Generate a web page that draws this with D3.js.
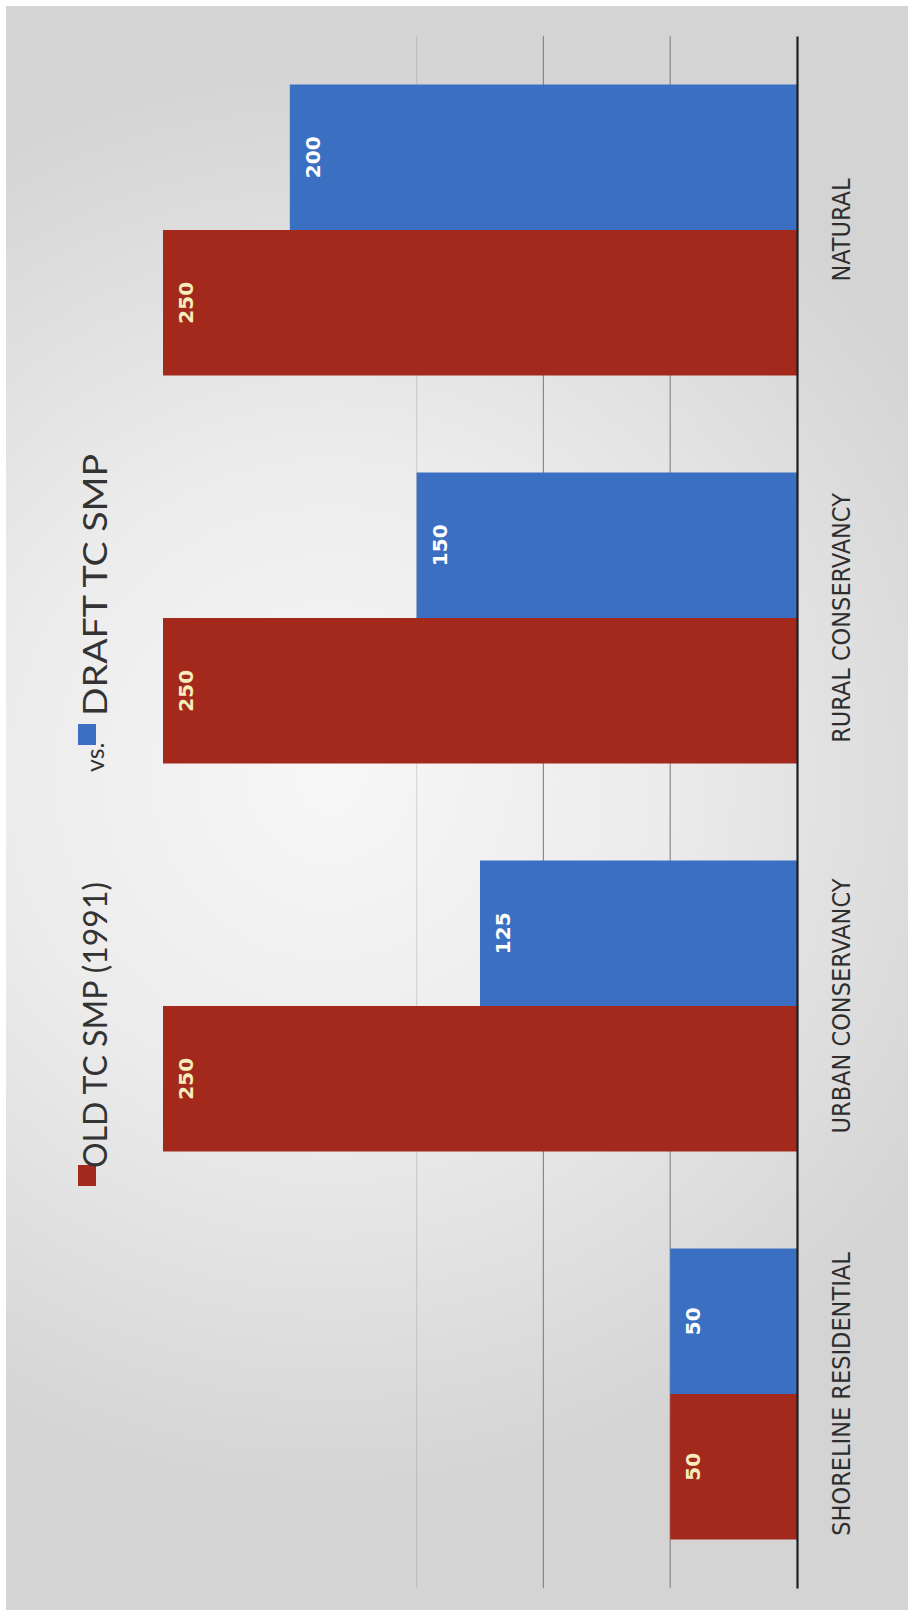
<!DOCTYPE html>
<html><head><meta charset="utf-8">
<script src="https://cdn.jsdelivr.net/npm/d3@7"></script>
<style>body{margin:0;background:#fff}svg{display:block}</style>
</head><body><svg id="c" width="914" height="1623"></svg>
<script>
// ---- data ----
const categories = ["SHORELINE RESIDENTIAL", "URBAN CONSERVANCY", "RURAL CONSERVANCY", "NATURAL"];
const seriesNames = ["OLD TC SMP (1991)", "DRAFT TC SMP"];
const seriesKeys = ["old", "draft"];
const oldValues = [50, 250, 250, 250];
const draftValues = [50, 125, 150, 200];
const gridTicks = [50, 100, 150];
const joinerText = "vs.";

const rows = categories.map((c, i) => ({cat: c, old: oldValues[i], draft: draftValues[i]}));

const svg = d3.select("#c");
const defs = svg.append("defs");
const rg = defs.append("radialGradient").attr("id", "bg")
  .attr("gradientUnits", "userSpaceOnUse").attr("cx", 330).attr("cy", 780).attr("r", 720);
rg.append("stop").attr("offset", "0%").attr("stop-color", "#f7f7f7");
rg.append("stop").attr("offset", "45%").attr("stop-color", "#ececec");
rg.append("stop").attr("offset", "100%").attr("stop-color", "#d4d4d4");

svg.append("rect").attr("x", 6).attr("y", 6).attr("width", 902).attr("height", 1604).attr("fill", "url(#bg)");

const color = d3.scaleOrdinal().domain(seriesKeys).range(["#a3291d", "#3a6fc1"]);
const labelColor = d3.scaleOrdinal().domain(seriesKeys).range(["#f5eebc", "#ffffff"]);

const x = d3.scaleLinear().domain([0, 250]).range([797, 163]);
const y = d3.scaleBand().domain(categories).range([1588, 36]).paddingInner(0.25).paddingOuter(0.125);
const sub = d3.scaleBand().domain(["draft", "old"]).range([0, y.bandwidth()]);

// gridlines
svg.append("g").selectAll("line").data(gridTicks).join("line")
  .attr("x1", d => x(d)).attr("x2", d => x(d))
  .attr("y1", 36).attr("y2", 1588)
  .attr("stroke", "#7f7f7f").attr("stroke-width", 1.2)
  .attr("stroke-opacity", d => d > 100 ? 0.25 : 0.9);

// bars
const grp = svg.append("g").selectAll("g").data(rows).join("g")
  .attr("transform", d => `translate(0,${y(d.cat)})`);
const cells = grp.selectAll("g.cell").data(d => seriesKeys.map(k => ({key: k, value: d[k]}))).join("g").attr("class", "cell");
cells.append("rect")
  .attr("x", d => x(d.value)).attr("width", d => x(0) - x(d.value))
  .attr("y", d => sub(d.key)).attr("height", sub.bandwidth())
  .attr("fill", d => color(d.key));
cells.append("text")
  .attr("transform", d => `translate(${x(d.value) + 23},${sub(d.key) + sub.bandwidth() / 2}) rotate(-90)`)
  .attr("text-anchor", "middle").attr("dominant-baseline", "central")
  .attr("font-family", "DejaVu Sans").attr("font-weight", "bold").attr("font-size", 20)
  .attr("fill", d => labelColor(d.key))
  .text(d => d.value);

// category axis
const ax = svg.append("g").attr("transform", "translate(797,0)")
  .call(d3.axisRight(y).tickSize(0).tickSizeOuter(0));
ax.select(".domain").attr("stroke", "#1e1e1e").attr("stroke-width", 2.2);
ax.selectAll(".tick text")
  .attr("x", null).attr("dy", null)
  .attr("transform", "translate(53,0) rotate(-90)")
  .attr("text-anchor", "middle")
  .attr("font-family", "'Liberation Sans Narrow', 'DejaVu Sans Condensed', sans-serif")
  .attr("font-size", 25).attr("fill", "#2e2e2e");

// title / legend (rotated)
const lg = svg.append("g").attr("transform", "translate(107,0) rotate(-90)");
const titleFont = "Lato, 'Open Sans', sans-serif";
lg.append("rect").attr("x", -1186).attr("y", -29).attr("width", 21).attr("height", 18).attr("fill", color("old"));
lg.append("text").attr("x", -1168).attr("y", 0).attr("font-family", titleFont).attr("font-size", 32)
  .attr("fill", "#333").text(seriesNames[0]);
lg.append("text").attr("x", -772).attr("y", -3).attr("font-family", titleFont).attr("font-size", 25)
  .attr("fill", "#333").text(joinerText);
lg.append("rect").attr("x", -745).attr("y", -29).attr("width", 21).attr("height", 18).attr("fill", color("draft"));
lg.append("text").attr("x", -716).attr("y", 0).attr("font-family", titleFont).attr("font-size", 32)
  .attr("textLength", 262).attr("lengthAdjust", "spacingAndGlyphs")
  .attr("fill", "#333").text(seriesNames[1]);
</script></body></html>
